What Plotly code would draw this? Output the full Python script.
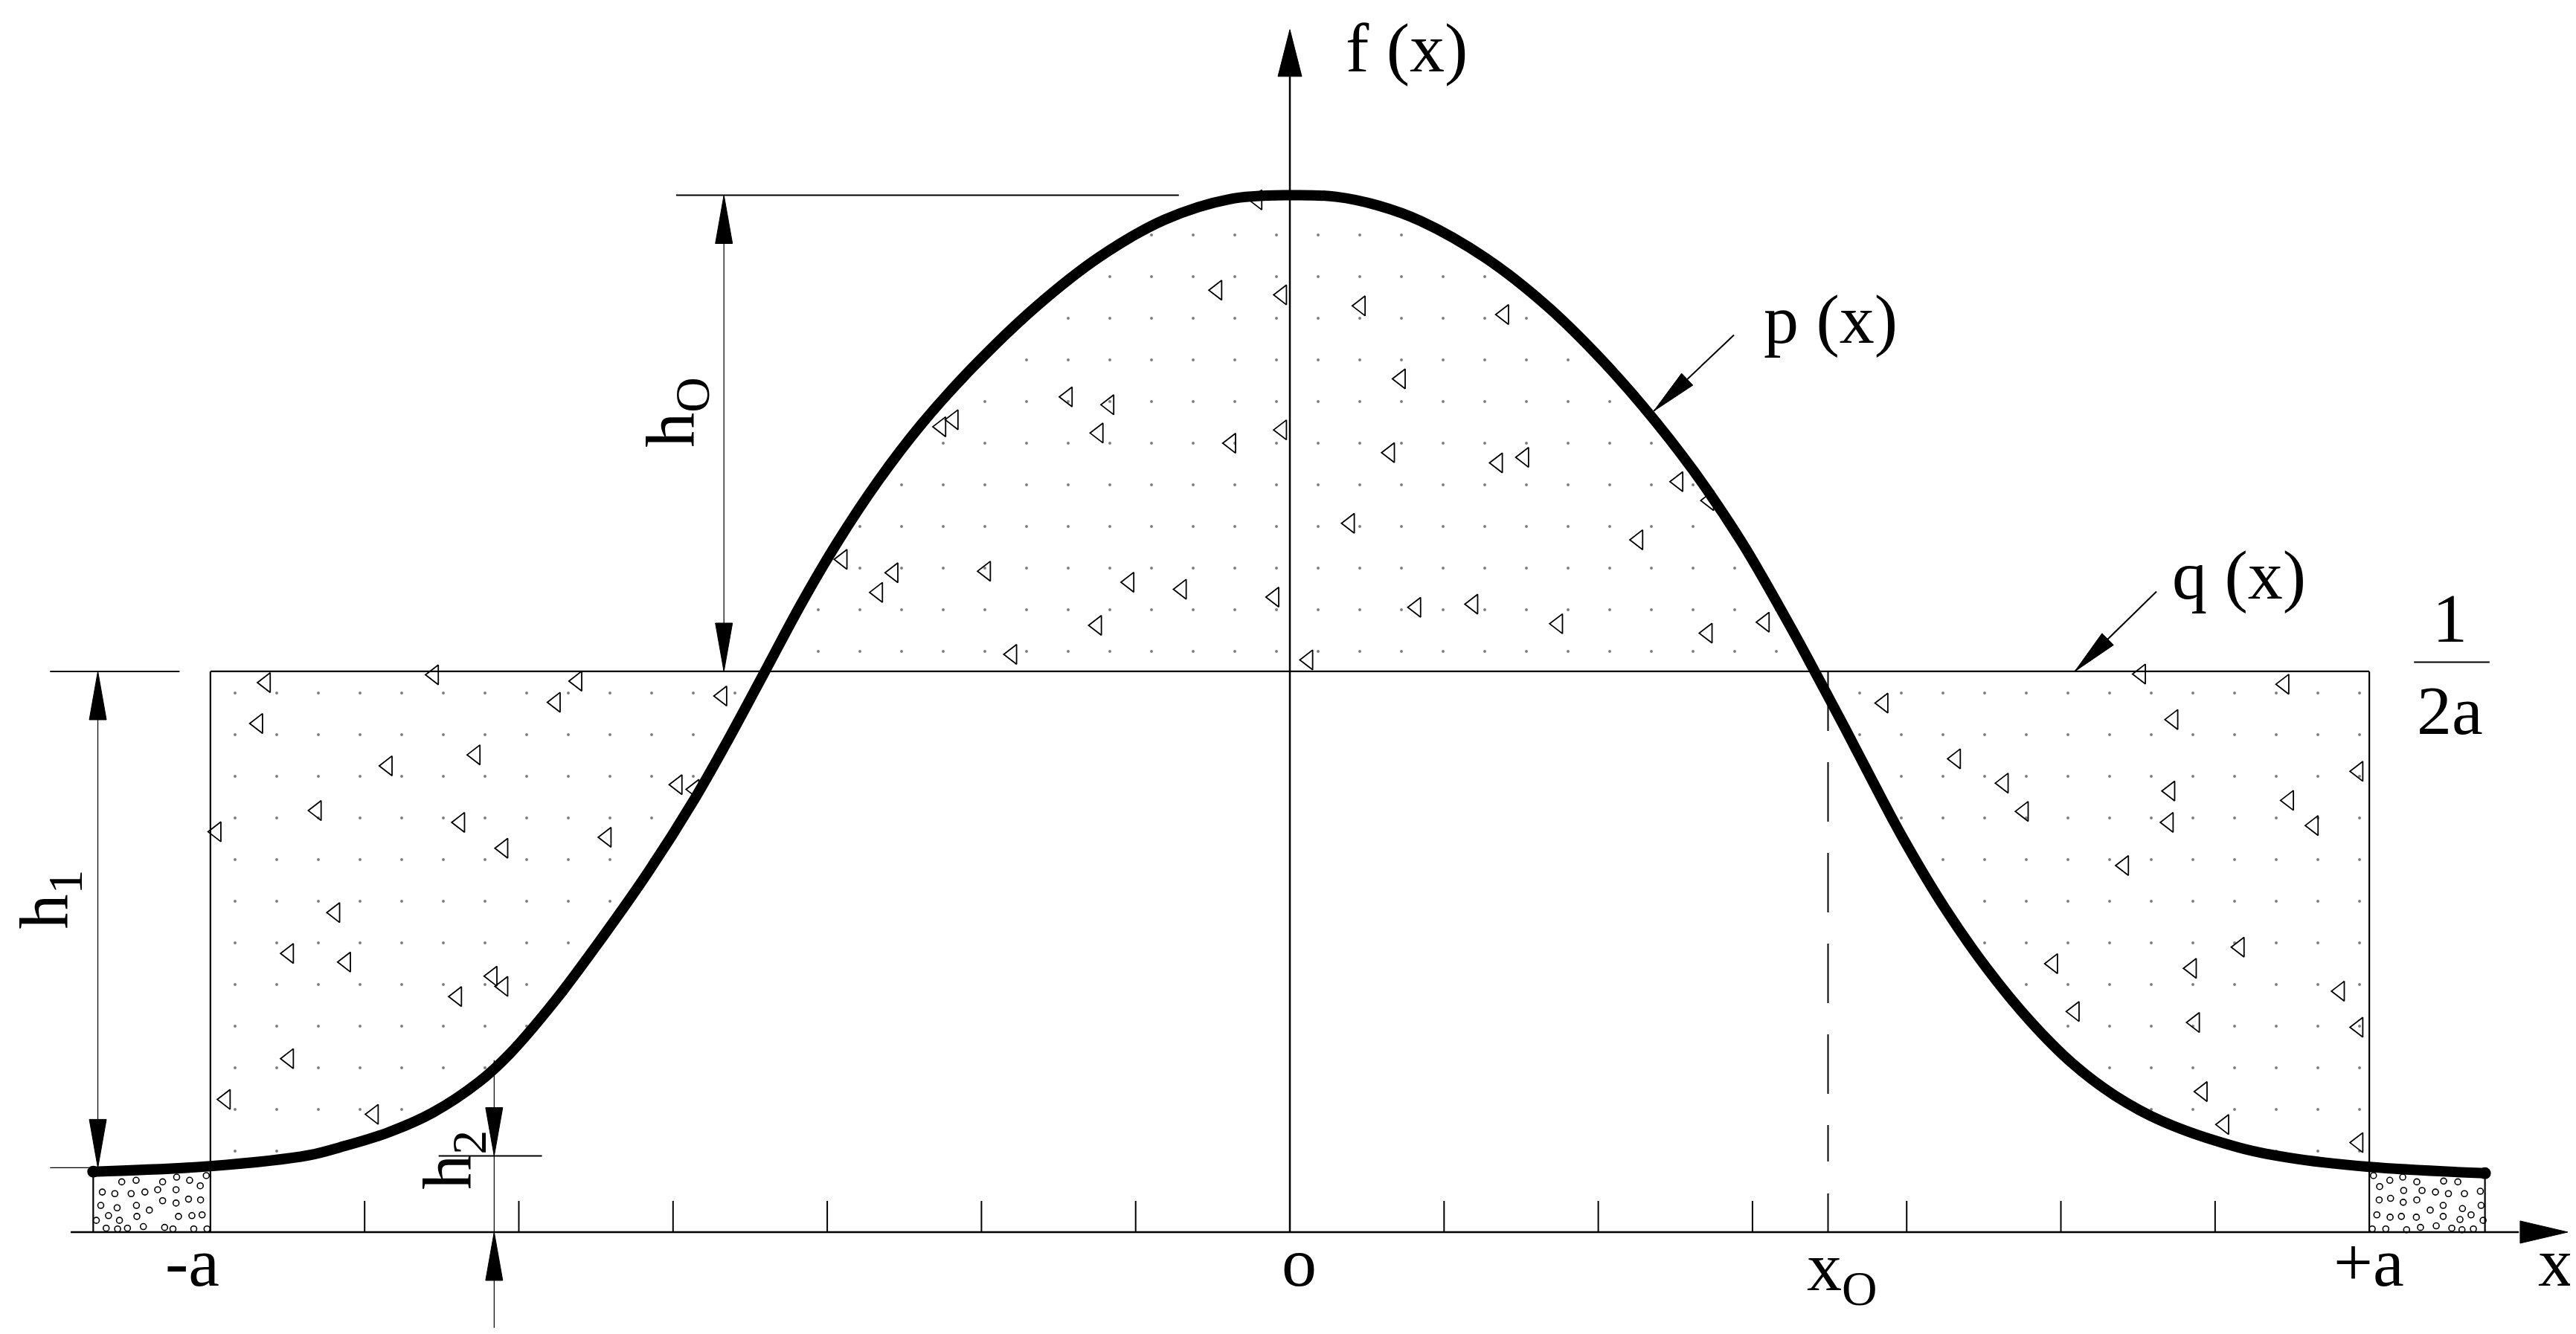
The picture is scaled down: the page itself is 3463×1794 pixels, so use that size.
import plotly.graph_objects as go

W, H = 3463, 1794
X_RANGE = [-8.326, 8.379]
Y_RANGE = [-0.01374, 0.15621]
PX_X = W / (X_RANGE[1] - X_RANGE[0])
PX_Y = H / (Y_RANGE[1] - Y_RANGE[0])

# x in tick units (a = 7), y as density, q(x) = 1/(2a)
A = 7
Q = 1 / (2 * A)
X0 = 3.49
tick_x = [-6, -5, -4, -3, -2, -1, 1, 2, 3, 4, 5, 6]

# p(x)
p_x = [-7.76, -7.0, -6.36, -6.16, -5.86, -5.56, -5.26, -5.06, -4.76, -4.46,
       -4.16, -3.86, -3.66, -3.41, -3.17, -2.94, -2.67, -2.39, -2.06, -1.64,
       -1.23, -0.81, -0.39, 0.0, 0.30, 0.57, 0.85, 1.27, 1.66, 1.98,
       2.29, 2.61, 2.93, 3.25, 3.41, 3.60, 3.78, 3.97, 4.25, 4.52,
       4.80, 5.08, 5.35, 5.66, 6.15, 6.47, 7.0, 7.75]
p_y = [0.0077, 0.0084, 0.0098, 0.0108, 0.0126, 0.0152, 0.0191, 0.0227, 0.0296, 0.0375,
       0.0459, 0.0552, 0.0621, 0.0712, 0.0800, 0.0877, 0.0957, 0.1029, 0.1101, 0.1180,
       0.1243, 0.1290, 0.1316, 0.1321, 0.1319, 0.1308, 0.1288, 0.1241, 0.1181, 0.1120,
       0.1052, 0.0972, 0.0879, 0.0770, 0.0712, 0.0642, 0.0574, 0.0504, 0.0412, 0.0336,
       0.0269, 0.0214, 0.0174, 0.0141, 0.0108, 0.0095, 0.0083, 0.0075]

# concrete hatch triangles
tri_x = [-0.21, -0.47, -0.05, 0.46, 1.39, 0.72, -1.44, -1.17, -2.18, -2.26, -1.24, -0.38, -0.05,
         0.65, 1.35, 1.52, 2.52, 2.72, 0.39, 2.26, -2.90, -2.57, -2.67, -1.97, -1.04, -0.70,
         -0.10, 0.82, 1.19, 1.74, 2.71, -1.25, -1.80, 0.12, 3.08,
         -6.64, -6.69, -5.55, -4.76, -4.62, -5.85, -5.28, -3.68, -3.97, -3.86, -6.96, -6.31,
         -5.38, -5.10, -4.43, -6.19, -6.49, -6.12, -5.40, -5.17, -5.10, -6.49, -6.90, -5.94,
         3.85, 4.32, 4.63, 4.76, 5.52, 5.73, 6.45, 5.71, 5.70, 6.48, 5.41, 6.93, 6.64,
         4.95, 5.09, 6.16, 5.85, 5.87, 6.81, 6.93, 5.92, 6.06, 6.93]
tri_y = [0.1315, 0.1200, 0.1194, 0.1180, 0.1169, 0.1087, 0.1064, 0.1054, 0.1035, 0.1026, 0.1018,
         0.1005, 0.1022, 0.0993, 0.0980, 0.0987, 0.0956, 0.0932, 0.0903, 0.0882, 0.0857, 0.0840,
         0.0815, 0.0842, 0.0828, 0.0819, 0.0809, 0.0796, 0.0800, 0.0775, 0.0763, 0.0773, 0.0736,
         0.0729, 0.0777,
         0.0700, 0.0648, 0.0710, 0.0675, 0.0702, 0.0594, 0.0608, 0.0683, 0.0570, 0.0564, 0.0510,
         0.0537, 0.0522, 0.0489, 0.0503, 0.0407, 0.0355, 0.0344, 0.0300, 0.0326, 0.0313, 0.0221,
         0.0169, 0.0150,
         0.0674, 0.0603, 0.0572, 0.0536, 0.0711, 0.0653, 0.0698, 0.0562, 0.0522, 0.0550, 0.0467,
         0.0587, 0.0518, 0.0342, 0.0281, 0.0363, 0.0336, 0.0267, 0.0307, 0.0261, 0.0179, 0.0137,
         0.0114]

# gravel circles in the two end boxes
circ_x = [-7.575, -7.482, -7.310, -7.219, -7.135, -7.027,
          -7.701, -7.620, -7.514, -7.425, -7.342, -7.223, -7.066,
          -7.711, -7.605, -7.480, -7.396, -7.310, -7.223, -7.142, -7.064,
          -7.740, -7.661, -7.590, -7.477, -7.207, -7.120, -7.054,
          -7.676, -7.602, -7.538, -7.435, -7.297, -7.243, -7.108, -7.022,
          7.027, 7.067, 7.133, 7.217, 7.308, 7.482, 7.574, 7.223, 7.342, 7.429, 7.513, 7.617,
          7.720, 7.064, 7.138, 7.220, 7.308, 7.395, 7.479, 7.604, 7.725, 7.049, 7.135, 7.208,
          7.305, 7.479, 7.588, 7.660, 7.738, 7.019, 7.107, 7.242, 7.332, 7.434, 7.535, 7.601,
          7.675]
circ_y = [0.0064, 0.0066, 0.0064, 0.0070, 0.0066, 0.0072,
          0.0051, 0.0049, 0.0049, 0.0051, 0.0054, 0.0054, 0.0059,
          0.0034, 0.0031, 0.0034, 0.0028, 0.0040, 0.0037, 0.0042, 0.0041,
          0.0015, 0.0021, 0.0015, 0.0020, 0.0020, 0.0021, 0.0022,
          0.0005, 0.0004, 0.0005, 0.0007, 0.0006, 0.0004, 0.0004, 0.0004,
          0.0072, 0.0058, 0.0066, 0.0070, 0.0064, 0.0065, 0.0064, 0.0053, 0.0053, 0.0051, 0.0049,
          0.0049, 0.0052, 0.0041, 0.0043, 0.0038, 0.0041, 0.0028, 0.0034, 0.0030, 0.0034, 0.0022,
          0.0019, 0.0020, 0.0019, 0.0020, 0.0016, 0.0022, 0.0015, 0.0004, 0.0004, 0.0003, 0.0006,
          0.0008, 0.0005, 0.0003, 0.0004]

PEAK = max(p_y)
H0_X = -3.67
H1_X = -7.73
H1_BOT = 0.0082
H2_X = -5.16
H2_Y = 0.0097
p_lead = [(2.88, 0.1143), (2.36, 0.1046)]
q_lead = [(5.62, 0.0816), (5.09, Q)]

FONT = dict(family='Liberation Serif', size=94, color='black')

fig = go.Figure()
shapes = []


def seg(x0, y0, x1, y1, w=2.0, dash=None):
    shapes.append(dict(type='line', xref='x', yref='y', x0=x0, y0=y0, x1=x1, y1=y1,
                       line=dict(color='black', width=w, dash=dash), layer='below'))


def head(tx, ty, fx, fy, length=65, width=23):
    # filled arrowhead, tip at (tx, ty), coming from (fx, fy); sizes in screen px
    dx = (tx - fx) * PX_X
    dy = (ty - fy) * PX_Y
    n = (dx * dx + dy * dy) ** 0.5
    ux, uy = dx / n, dy / n
    bx, by = -ux * length, -uy * length
    ox, oy = -uy * width / 2, ux * width / 2
    xs = [tx, tx + (bx + ox) / PX_X, tx + (bx - ox) / PX_X, tx]
    ys = [ty, ty + (by + oy) / PX_Y, ty + (by - oy) / PX_Y, ty]
    fig.add_trace(go.Scatter(x=xs, y=ys, mode='lines', fill='toself', fillcolor='black',
                             line=dict(color='black', width=1), hoverinfo='skip'))


# stippled area between p(x) and q(x)
inside = [i for i, v in enumerate(p_x) if -A <= v <= A]
fig.add_trace(go.Scatter(
    x=[p_x[i] for i in inside] + [A, -A],
    y=[p_y[i] for i in inside] + [Q, Q],
    mode='lines', fill='toself', line=dict(width=0),
    fillcolor='rgba(0,0,0,0)',
    fillpattern=dict(shape='.', fgcolor='black', bgcolor='rgba(255,255,255,0)',
                     size=56, solidity=0.004, fillmode='overlay'),
    hoverinfo='skip'))

fig.add_trace(go.Scatter(x=tri_x, y=tri_y, mode='markers', hoverinfo='skip',
                         marker=dict(symbol='triangle-left-open', size=23, color='black',
                                     line=dict(width=1.8, color='black'))))
fig.add_trace(go.Scatter(x=circ_x, y=circ_y, mode='markers', hoverinfo='skip',
                         marker=dict(symbol='circle-open', size=8, color='black',
                                     line=dict(width=1.6, color='black'))))

# p(x)
fig.add_trace(go.Scatter(x=p_x, y=p_y, mode='lines',
                         line=dict(color='black', width=14, shape='spline', smoothing=1.0),
                         hoverinfo='skip'))
fig.add_trace(go.Scatter(x=[p_x[0], p_x[-1]], y=[p_y[0], p_y[-1]], mode='markers',
                         marker=dict(color='black', size=16), hoverinfo='skip'))

# axes
seg(-7.906, 0, 7.97, 0, 2.5)
seg(0, 0, 0, 0.1472, 2.5)
head(8.287, 0, 7.0, 0, 64, 30)
head(0, 0.1532, 0, 0.1, 63, 32)
for t in tick_x:
    seg(t, 0, t, 42 / PX_Y, 2)
seg(X0, 0, X0, 52 / PX_Y, 2)
seg(X0, Q, X0, 0.009, 2, dash='80px,42px')

# q(x) rectangle and end boxes
seg(-A, Q, A, Q, 2.2)
seg(-A, 0, -A, Q, 2.2)
seg(A, 0, A, Q, 2.2)
seg(p_x[0], 0, p_x[0], p_y[0], 2.2)
seg(p_x[-1], 0, p_x[-1], p_y[-1], 2.2)

# h0
seg(-3.98, PEAK, -0.72, PEAK, 2)
seg(H0_X, PEAK, H0_X, Q, 1.2)
head(H0_X, PEAK, H0_X, Q)
head(H0_X, Q, H0_X, PEAK)
# h1
seg(-8.04, Q, -7.20, Q, 2)
seg(-8.04, H1_BOT, p_x[0], H1_BOT, 1.2)
seg(H1_X, Q, H1_X, H1_BOT, 1.2)
head(H1_X, Q, H1_X, H1_BOT)
head(H1_X, H1_BOT, H1_X, Q)
# h2
seg(-5.52, H2_Y, -4.85, H2_Y, 2)
seg(H2_X, 0.0219, H2_X, -0.0122, 1.2)
head(H2_X, H2_Y, H2_X, 0.0219)
head(H2_X, 0, H2_X, -0.0122)

# leaders
for lead in (p_lead, q_lead):
    (fx, fy), (tx, ty) = lead
    seg(fx, fy, tx, ty, 2)
    head(tx, ty, fx, fy, 62, 22)

# 1/2a fraction bar
seg(7.29, 0.0726, 7.78, 0.0726, 2)

labels = [
    (3.505, 0.1163, 'p (x)', 0),
    (6.153, 0.0837, 'q (x)', 0),
    (7.521, 0.0782, '1', 0),
    (7.525, 0.0665, '2a', 0),
    (-7.120, -0.0038, '-a', 0),
    (6.995, -0.0038, '+a', 0),
    (0.058, -0.0038, 'o', 0),
    (3.584, -0.0050, 'x<sub>O</sub>', 0),
    (8.210, -0.0038, 'x', 0),
    (-3.985, 0.1045, 'h<sub>O</sub>', -90),
    (-8.046, 0.0424, 'h<sub>1</sub>', -90),
    (-5.432, 0.0092, 'h<sub>2</sub>', -90),
]
for lx, ly, txt, ang in labels:
    fig.add_annotation(x=lx, y=ly, text=txt, showarrow=False, font=FONT,
                       xanchor='center', yanchor='middle', textangle=ang)
# f(x) sits at the top edge
fig.add_annotation(x=0.757, y=Y_RANGE[1] - 2 / PX_Y, text='f (x)', showarrow=False, font=FONT,
                   xanchor='center', yanchor='top')

fig.update_layout(
    width=W, height=H,
    margin=dict(l=0, r=0, t=0, b=0),
    paper_bgcolor='white', plot_bgcolor='white',
    showlegend=False,
    shapes=shapes,
    xaxis=dict(range=X_RANGE, visible=False, fixedrange=True),
    yaxis=dict(range=Y_RANGE, visible=False, fixedrange=True),
)

fig.write_html("out.html")
